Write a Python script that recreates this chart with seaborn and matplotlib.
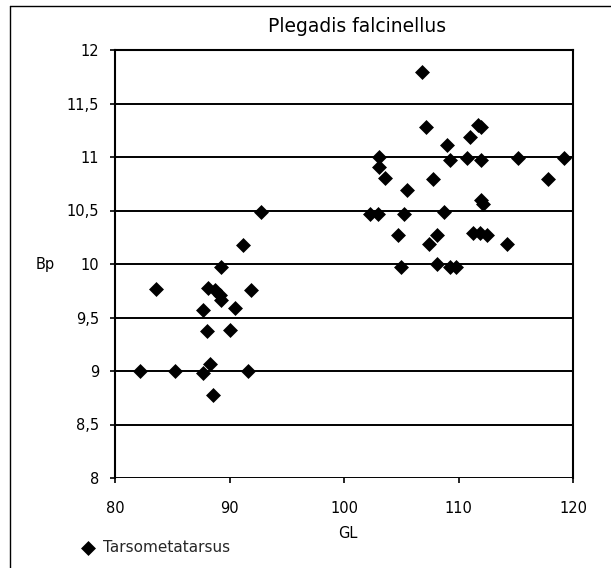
import matplotlib
matplotlib.use("Agg")
import matplotlib.pyplot as plt
import seaborn as sns
import pandas as pd
from matplotlib.lines import Line2D

# ---- data ----
gl = [91.2, 92.75, 89.3, 83.6, 91.9, 88.1, 88.7, 89.2, 89.3, 87.7, 90.5,
      88.0, 90.0, 88.3, 87.7, 82.2, 85.2, 91.6, 88.6,
      106.8, 107.2, 111.7, 112.0, 111.0, 109.0, 109.3, 110.7, 112.0, 115.2,
      119.2, 117.8, 103.1, 103.1, 103.6, 107.8, 105.5, 112.0, 112.1, 102.3,
      103.0, 105.2, 108.7, 104.7, 108.1, 107.4, 111.3, 111.9, 112.5, 114.2,
      105.0, 108.1, 109.3, 109.8]
bp = [10.18, 10.49, 9.97, 9.77, 9.76, 9.78, 9.76, 9.71, 9.66, 9.57, 9.59,
      9.37, 9.38, 9.07, 8.98, 9.0, 9.0, 9.0, 8.78,
      11.79, 11.28, 11.3, 11.28, 11.19, 11.11, 10.97, 10.99, 10.97, 10.99,
      10.99, 10.79, 11.0, 10.91, 10.8, 10.79, 10.69, 10.6, 10.56, 10.47,
      10.47, 10.47, 10.49, 10.27, 10.27, 10.19, 10.29, 10.29, 10.27, 10.19,
      9.97, 10.0, 9.97, 9.97]

series_name = "Tarsometatarsus"
title_text = "Plegadis falcinellus"
x_label = "GL"
y_label = "Bp"
x_ticks = [80, 90, 100, 110, 120]
x_tick_labels = ["80", "90", "100", "110", "120"]
y_ticks = [8, 8.5, 9, 9.5, 10, 10.5, 11, 11.5, 12]
y_tick_labels = ["8", "8,5", "9", "9,5", "10", "10,5", "11", "11,5", "12"]

df = pd.DataFrame({"GL": gl, "Bp": bp})

sns.set_theme(style="white")
plt.rcParams["font.family"] = ["DejaVu Sans"]

W, H = 611, 568
fig = plt.figure(figsize=(W / 100, H / 100), dpi=100)
fig.patch.set_facecolor("white")

ax = fig.add_axes([115 / W, 1 - 478 / H, (573 - 115) / W, (478 - 50) / H])
ax.set_facecolor("white")

sns.scatterplot(data=df, x="GL", y="Bp", ax=ax, marker="D", s=58,
                color="black", edgecolor="black", linewidth=0,
                label=series_name, zorder=3)

ax.set_xlim(80, 120)
ax.set_ylim(8, 12)
ax.set_xticks(x_ticks)
ax.set_xticklabels(x_tick_labels)
ax.set_yticks(y_ticks)
ax.set_yticklabels(y_tick_labels)
ax.set_xlabel("")
ax.set_ylabel("")

ax.yaxis.grid(True, color="black", linewidth=1.4, zorder=1)
ax.xaxis.grid(False)
ax.set_axisbelow(True)

for side in ["left", "right", "top"]:
    ax.spines[side].set_visible(True)
    ax.spines[side].set_color("black")
    ax.spines[side].set_linewidth(1.5)
ax.spines["bottom"].set_visible(False)

ax.tick_params(axis="y", which="major", direction="out", length=3.5,
               width=1.2, color="black", pad=8, labelsize=10.5,
               labelcolor="black", left=True)
ax.tick_params(axis="x", which="major", direction="out", length=3.5,
               width=1.2, color="black", pad=13, labelsize=10.5,
               labelcolor="black", bottom=True)

fig.text(357 / W, 1 - 27 / H, title_text, ha="center", va="center",
         fontsize=13.5, color="black")
fig.text(45 / W, 1 - 264 / H, y_label, ha="center", va="center",
         fontsize=10.5, color="black")
fig.text(348 / W, 1 - 534 / H, x_label, ha="center", va="center",
         fontsize=10.5, color="black")

ax.legend(loc="center left", bbox_to_anchor=(80 / W, 1 - 548 / H),
          bbox_transform=fig.transFigure, frameon=False, fontsize=11,
          handlelength=1.0, handletextpad=0.5, borderpad=0,
          borderaxespad=0, markerscale=1.0)

# outer frame (top and left edges visible in the reference)
fig.add_artist(Line2D([10 / W, 1.0], [1 - 6 / H, 1 - 6 / H],
                      transform=fig.transFigure, color="black", linewidth=1.0))
fig.add_artist(Line2D([10 / W, 10 / W], [0.0, 1 - 6 / H],
                      transform=fig.transFigure, color="black", linewidth=1.0))

fig.savefig("out.png", dpi=100, facecolor="white")
